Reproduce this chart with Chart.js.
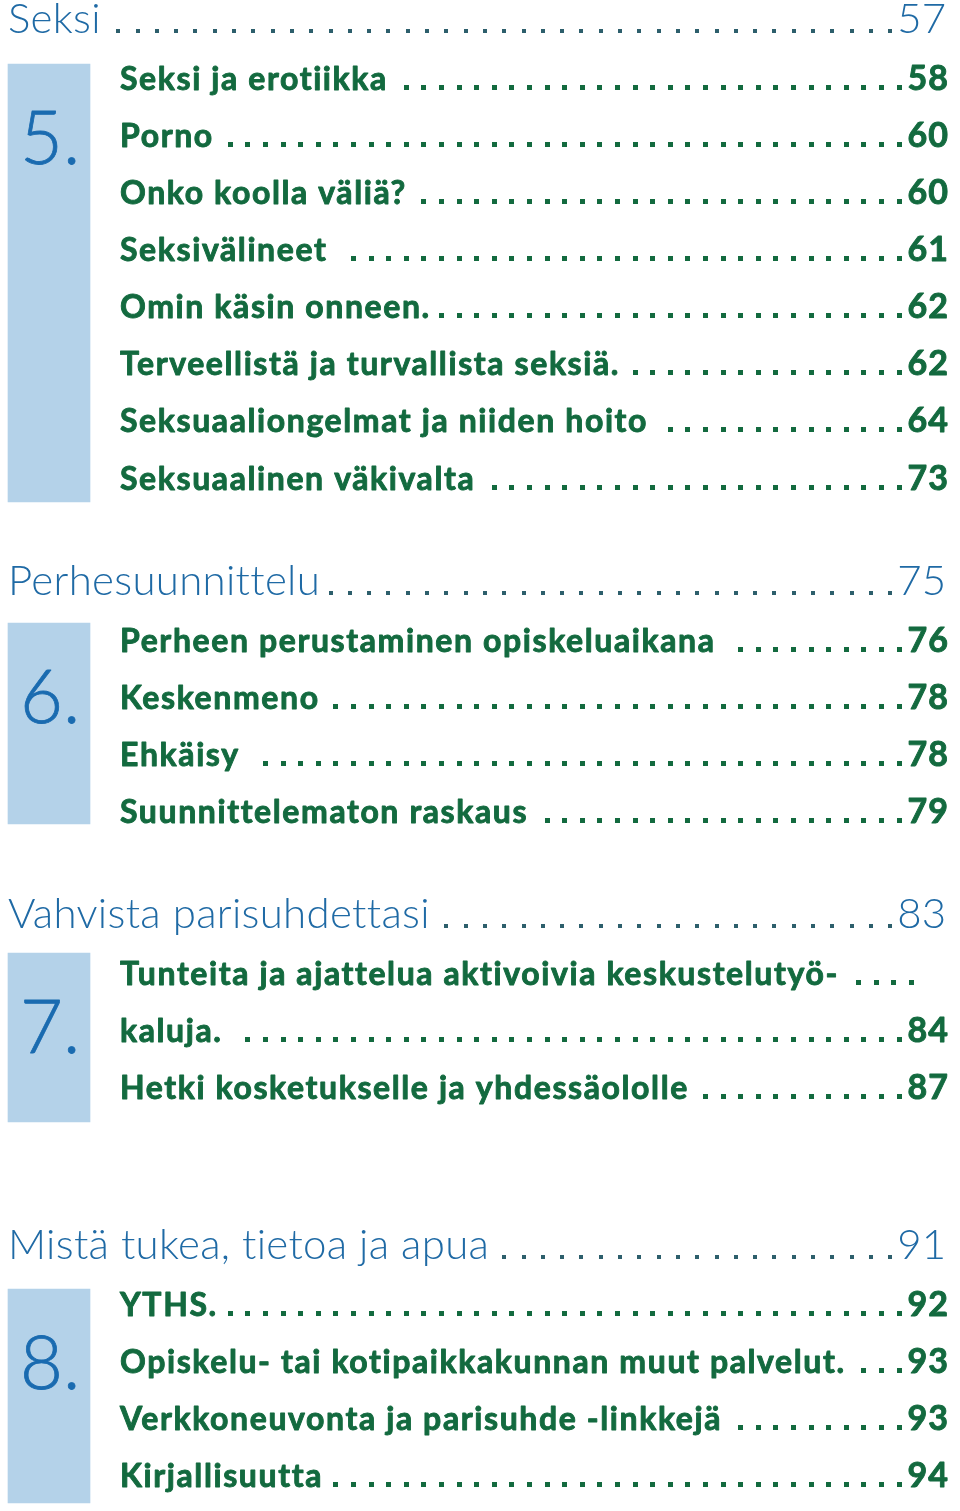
<!DOCTYPE html>
<html>
<head>
<meta charset="utf-8">
<script src="https://cdn.jsdelivr.net/npm/chart.js@4/dist/chart.umd.min.js"></script>
<style>
  html, body { margin: 0; padding: 0; background: #ffffff; }
  #wrap { width: 960px; height: 1511px; position: relative; }
</style>
</head>
<body>
<div id="wrap"><canvas id="c" width="960" height="1511"></canvas></div>
<script>
// ---- Data ----
const sectionNumbers = ["5.", "6.", "7.", "8."];
const sectionTitles = ["Seksi", "Perhesuunnittelu", "Vahvista parisuhdettasi", "Mistä tukea, tietoa ja apua"];
const sectionPages = ["57", "75", "83", "91"];

const entries5 = ["Seksi ja erotiikka", "Porno", "Onko koolla väliä?", "Seksivälineet", "Omin käsin onneen.", "Terveellistä ja turvallista seksiä.", "Seksuaaliongelmat ja niiden hoito", "Seksuaalinen väkivalta"];
const pages5 = ["58", "60", "60", "61", "62", "62", "64", "73"];

const entries6 = ["Perheen perustaminen opiskeluaikana", "Keskenmeno", "Ehkäisy", "Suunnittelematon raskaus"];
const pages6 = ["76", "78", "78", "79"];

const entries7 = ["Tunteita ja ajattelua aktivoivia keskustelutyö-", "kaluja.", "Hetki kosketukselle ja yhdessäololle"];
const pages7 = ["", "84", "87"];

const entries8 = ["YTHS.", "Opiskelu- tai kotipaikkakunnan muut palvelut.", "Verkkoneuvonta ja parisuhde -linkkejä", "Kirjallisuutta"];
const pages8 = ["92", "93", "93", "94"];

const entryTitles = [entries5, entries6, entries7, entries8];
const entryPages = [pages5, pages6, pages7, pages8];

// ---- Layout (page units = pixels of the y / x scales) ----
const headingCenters = [18, 580, 913, 1244];
const firstEntryOffset = 59.5;
const rowStep = 57.15;
const boxTops = [64, 623, 953, 1289];
const boxBottoms = [502, 824, 1122, 1503];
const boxLeft = 8, boxRight = 90;
const headX = 8, entryX = 120, rightX = 948;

const C = {
  box: "#b4d2e9",
  num: "#1a6bb0",
  head: "#1f6aa5",
  headDot: "#2d5f6c",
  entry: "#136a3f"
};

const boxData = boxTops.map((t, i) => ({ x: (boxLeft + boxRight) / 2, y: [t, boxBottoms[i]] }));

const tocPlugin = {
  id: "toc",
  afterDatasetsDraw(chart) {
    const ctx = chart.ctx;
    const xs = chart.scales.x, ys = chart.scales.y;
    const X = v => xs.getPixelForValue(v);
    const Y = v => ys.getPixelForValue(v);
    ctx.save();
    ctx.textBaseline = "alphabetic";
    ctx.lineJoin = "round";

    sectionTitles.forEach((title, s) => {
      const hc = Y(headingCenters[s]);
      // heading
      ctx.letterSpacing = "0.3px";
      ctx.font = "300 42px Lato";
      ctx.fillStyle = C.head;
      ctx.textAlign = "left";
      ctx.fillText(title, X(headX), hc + 15);
      const tEnd = X(headX) + ctx.measureText(title).width;
      ctx.letterSpacing = "0px";
      ctx.textAlign = "right";
      ctx.fillText(sectionPages[s], X(rightX) - 2, hc + 15);
      const nW = ctx.measureText(sectionPages[s]).width;
      let dx = X(rightX) - 2 - nW - 9;
      ctx.fillStyle = C.headDot;
      while (dx > tEnd + 2) { ctx.fillRect(Math.round(dx), Math.round(hc + 11), 4, 4); dx -= 19.3; }

      // section number in box
      ctx.font = "300 74px Lato";
      ctx.fillStyle = C.num;
      ctx.strokeStyle = C.num;
      ctx.lineWidth = 0.8;
      ctx.textAlign = "left";
      ctx.fillText(sectionNumbers[s], X(boxLeft + 12), Y(boxTops[s]) + 100);
      ctx.strokeText(sectionNumbers[s], X(boxLeft + 12), Y(boxTops[s]) + 100);

      // entries
      const titles = entryTitles[s], pages = entryPages[s];
      titles.forEach((t, r) => {
        const rc = Y(headingCenters[s] + firstEntryOffset + r * rowStep);
        ctx.letterSpacing = "1.6px";
        ctx.font = "bold 32px Lato";
        ctx.fillStyle = C.entry;
        ctx.strokeStyle = C.entry;
        ctx.lineWidth = 0.9;
        ctx.textAlign = "left";
        ctx.fillText(t, X(entryX), rc + 12);
        ctx.strokeText(t, X(entryX), rc + 12);
        const te = X(entryX) + ctx.measureText(t).width;
        let endX;
        if (pages[r]) {
          ctx.letterSpacing = "1px";
          ctx.font = "bold 34px Lato";
          ctx.textAlign = "right";
          ctx.fillText(pages[r], X(rightX) + 1, rc + 12);
          ctx.strokeText(pages[r], X(rightX) + 1, rc + 12);
          endX = X(rightX) - ctx.measureText(pages[r]).width - 5;
        } else {
          endX = X(914);
        }
        let px = endX - 5;
        while (px > te + 6) { ctx.fillRect(Math.round(px), Math.round(rc + 7), 5, 5); px -= 17.6; }
      });
    });
    ctx.restore();
  }
};

new Chart(document.getElementById("c"), {
  type: "bar",
  data: {
    datasets: [{
      data: boxData,
      backgroundColor: C.box,
      borderWidth: 0,
      barThickness: boxRight - boxLeft
    }]
  },
  options: {
    responsive: false,
    animation: false,
    layout: { padding: 0 },
    plugins: { legend: { display: false }, tooltip: { enabled: false } },
    scales: {
      x: { type: "linear", min: 0, max: 960, offset: false, display: false },
      y: { type: "linear", min: 0, max: 1511, reverse: true, display: false }
    }
  },
  plugins: [tocPlugin]
});
</script>
</body>
</html>
